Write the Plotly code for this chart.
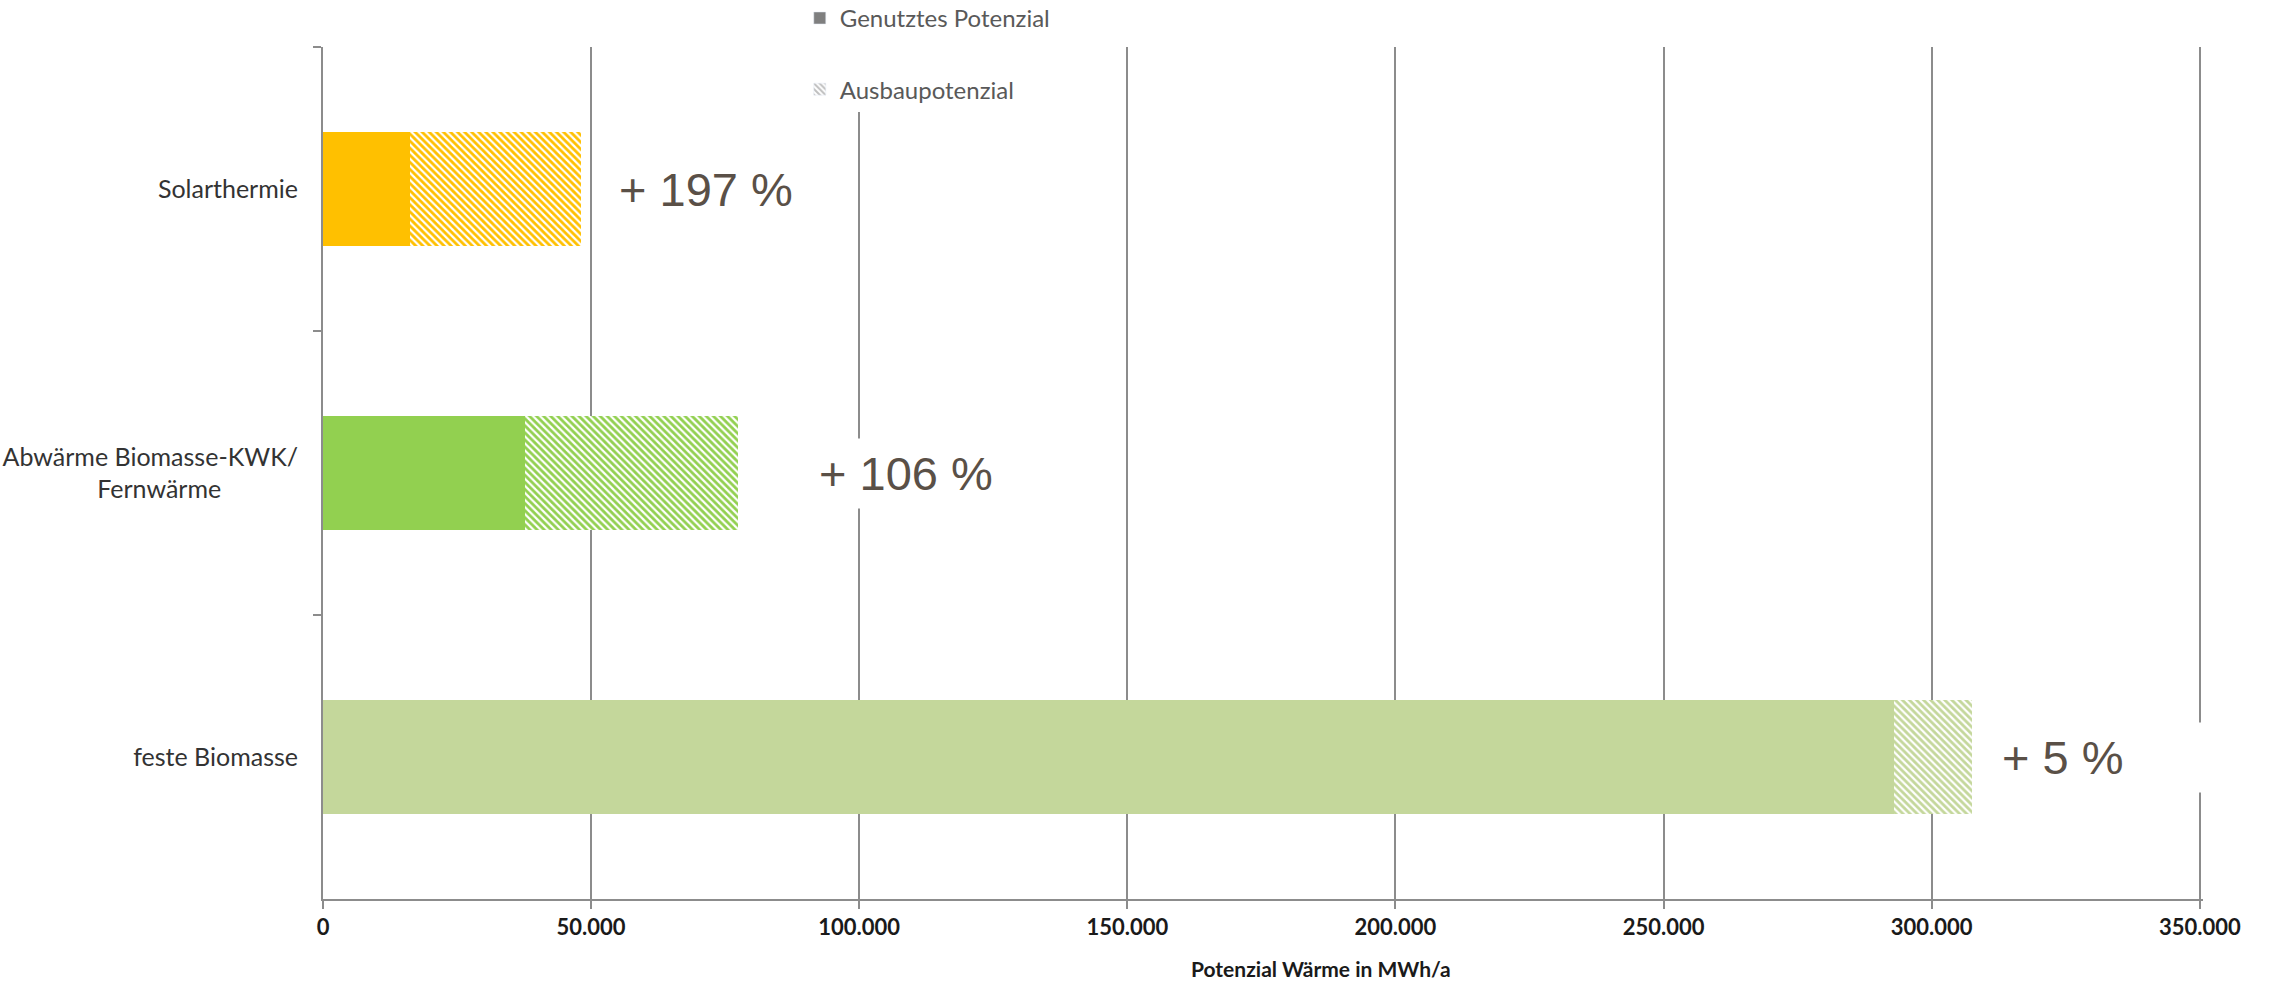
import plotly.graph_objects as go

categories = ["Solarthermie", "Abwärme Biomasse-KWK/<br>Fernwärme" + "\u00a0" * 12, "feste Biomasse"]
used = [16200, 37600, 293000]
expansion = [31900, 39800, 14600]
increase_pct = [197, 106, 5]
label_x = [53550, 90850, 311450]
label_box_width = [None, None, 200]
colors = ["#FFC000", "#92D050", "#C4D79B"]
x_ticks = [0, 50000, 100000, 150000, 200000, 250000, 300000, 350000]

fig = go.Figure()

fig.add_trace(go.Bar(
    y=categories, x=used, orientation="h", name="Genutztes Potenzial",
    marker=dict(color=colors, line=dict(width=0)), width=0.40, showlegend=False,
))
for cat, val, col in zip(categories, expansion, colors):
    fig.add_trace(go.Bar(
        y=[cat], x=[val], orientation="h", name="Ausbaupotenzial",
        marker=dict(color=col, line=dict(width=0),
                    pattern=dict(shape="\\", fgcolor=col, bgcolor="white",
                                 fillmode="replace", size=5, solidity=0.55)),
        width=0.40, showlegend=False,
    ))
# legend-only entries (grey, as in the original)
fig.add_trace(go.Bar(
    y=[categories[0]], x=[None], orientation="h", name="Genutztes Potenzial",
    marker=dict(color="#7f7f7f"), legendgroup="a",
))
fig.add_trace(go.Bar(
    y=[categories[0]], x=[None], orientation="h", name="Ausbaupotenzial",
    marker=dict(color="#7f7f7f", pattern=dict(shape="\\", fgcolor="#7f7f7f", bgcolor="white", size=5, solidity=0.5)),
    legendgroup="b",
))

for cat, pct, lx, bw in zip(categories, increase_pct, label_x, label_box_width):
    fig.add_annotation(
        x=lx, y=cat, xref="x", yref="y", xanchor="left", yanchor="middle",
        text=f"+ {pct} %", showarrow=False, width=bw, align="left",
        font=dict(family="Liberation Sans, Arial", size=47, color="#5a5047"),
        bgcolor="white", borderpad=8,
    )

fig.add_annotation(
    x=0.531, y=-0.081, xref="paper", yref="paper", xanchor="center", yanchor="middle",
    text="<b>Potenzial Wärme in MWh/a</b>", showarrow=False,
    font=dict(family="Lato", size=21, color="#1a1a1a"),
)

fig.update_layout(
    width=2269, height=984,
    margin=dict(l=323, r=66, t=47, b=85, autoexpand=False),
    barmode="stack",
    plot_bgcolor="white", paper_bgcolor="white",
    separators=",.",
    font=dict(family="Lato", color="#333333"),
    legend=dict(x=0.2536, y=1.06, xanchor="left", yanchor="top",
                font=dict(family="Lato", size=24, color="#595959"),
                bgcolor="white", tracegroupgap=37, itemwidth=30),
    showlegend=True,
)
fig.update_xaxes(
    range=[0, 350600], tickvals=x_ticks, tickformat=",d",
    showgrid=True, gridcolor="#8c8c8c", gridwidth=2,
    showline=True, linecolor="#8c8c8c", linewidth=2,
    ticks="outside", ticklen=8, tickcolor="#8c8c8c", tickwidth=2,
    tickfont=dict(family="Lato", size=22, color="#1a1a1a", weight="bold"),
    zeroline=False,
)
fig.update_yaxes(
    autorange="reversed", type="category",
    showgrid=False, showline=True, linecolor="#8c8c8c", linewidth=2,
    ticks="outside", ticklen=8, tickcolor="#8c8c8c", tickwidth=2, tickson="boundaries",
    tickfont=dict(family="Lato", size=25, color="#333333"),
    ticklabelstandoff=18,
)

fig.write_html("out.html")
